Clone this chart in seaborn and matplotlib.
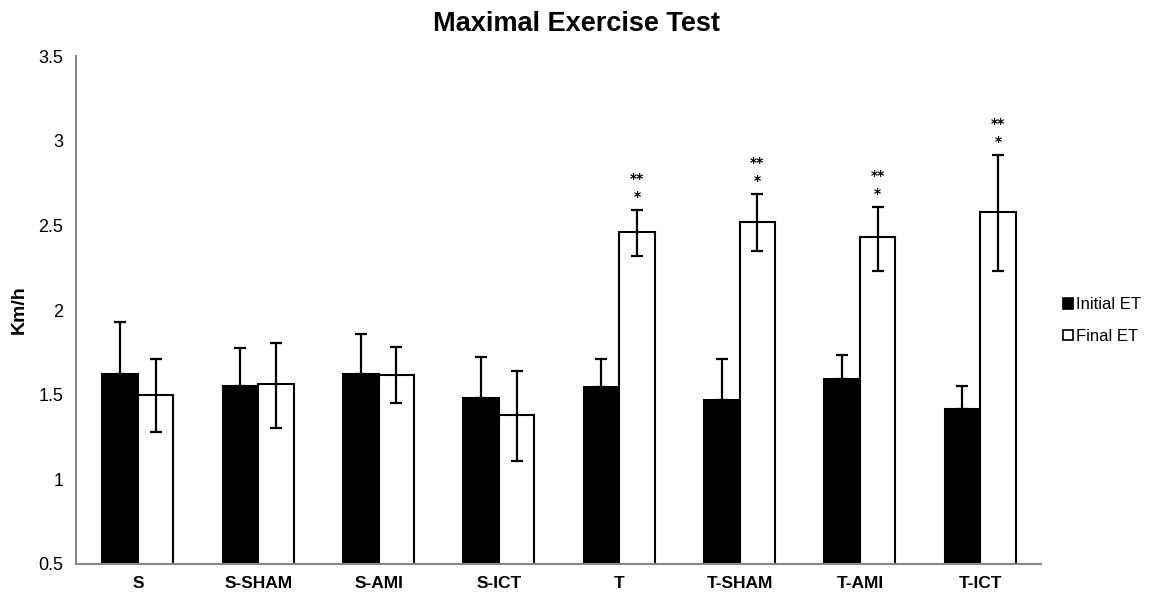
import matplotlib
matplotlib.use("Agg")
import matplotlib.pyplot as plt
import numpy as np
import pandas as pd
import seaborn as sns

# Values (Km/h)
groups = ["S", "S-SHAM", "S-AMI", "S-ICT", "T", "T-SHAM", "T-AMI", "T-ICT"]
initial_et = [1.62, 1.55, 1.625, 1.48, 1.545, 1.467, 1.59, 1.414]
initial_err_up = [0.31, 0.225, 0.235, 0.24, 0.165, 0.243, 0.145, 0.136]
final_et = [1.50, 1.565, 1.615, 1.378, 2.46, 2.52, 2.43, 2.58]
final_err_up = [0.21, 0.24, 0.165, 0.262, 0.13, 0.165, 0.18, 0.335]
final_err_down = [0.22, 0.26, 0.165, 0.27, 0.14, 0.17, 0.20, 0.35]
significant = [False, False, False, False, True, True, True, True]

series_names = ["Initial ET", "Final ET"]

df = pd.DataFrame({
    "group": groups * 2,
    "test": [series_names[0]] * len(groups) + [series_names[1]] * len(groups),
    "value": initial_et + final_et,
})

sns.set_style("white")
plt.rcParams["font.family"] = ["Liberation Sans", "DejaVu Sans"]
plt.rcParams["text.color"] = "black"
plt.rcParams["axes.labelcolor"] = "black"

fig = plt.figure(figsize=(11.49, 5.96), dpi=100)
ax = fig.add_axes([0.0661, 0.0537, 0.906 - 0.0661, 0.906 - 0.0537])

sns.barplot(data=df, x="group", y="value", hue="test", order=groups,
            hue_order=series_names, palette=["black", "white"],
            edgecolor="black", linewidth=1.5, width=0.59, gap=0,
            errorbar=None, ax=ax, legend=True)

# Error bars: initial only upward, final both directions
init_x = [b.get_x() + b.get_width() / 2 for b in ax.containers[0]]
final_x = [b.get_x() + b.get_width() / 2 for b in ax.containers[1]]
ax.errorbar(init_x, initial_et, yerr=[np.zeros(len(groups)), initial_err_up],
            fmt="none", ecolor="black", elinewidth=1.6, capsize=4.5, capthick=1.6)
ax.errorbar(final_x, final_et, yerr=[final_err_down, final_err_up],
            fmt="none", ecolor="black", elinewidth=1.6, capsize=4.5, capthick=1.6)

# Significance marks above the final bars
for x, v, e, sig in zip(final_x, final_et, final_err_up, significant):
    if sig:
        top = v + e
        ax.text(x, top + 0.077, "*", ha="center", va="center",
                fontsize=10, fontweight="bold", family="DejaVu Sans")
        ax.text(x, top + 0.183, "**", ha="center", va="center",
                fontsize=10, fontweight="bold", family="DejaVu Sans")

ax.set_ylim(0.5, 3.5)
ax.set_xlim(-0.515, 7.505)
ax.set_yticks([0.5, 1, 1.5, 2, 2.5, 3, 3.5])
ax.set_yticklabels(["0.5", "1", "1.5", "2", "2.5", "3", "3.5"])

for side in ["top", "right"]:
    ax.spines[side].set_visible(False)
for side in ["left", "bottom"]:
    ax.spines[side].set_color("#888888")
    ax.spines[side].set_linewidth(1.5)

ax.tick_params(axis="y", which="major", direction="out", length=5,
               width=1.2, color="#888888", labelcolor="black",
               labelsize=13, pad=4)
ax.tick_params(axis="x", which="major", length=0, labelcolor="black",
               labelsize=12.5, pad=9)
for label in ax.get_xticklabels():
    label.set_fontweight("bold")

ax.set_xlabel("")
ax.set_ylabel("Km/h", fontsize=14, fontweight="bold", labelpad=8)

fig.suptitle("Maximal Exercise Test", x=0.502, y=0.982, fontsize=19.5,
             fontweight="heavy")

leg = ax.legend(loc="center left", bbox_to_anchor=(0.912, 0.462),
                bbox_transform=fig.transFigure, frameon=False, fontsize=12,
                handlelength=0.6, handleheight=0.6, handletextpad=0.2,
                labelspacing=1.0)
for h in leg.legend_handles:
    h.set_edgecolor("black")
    h.set_linewidth(1.2)

fig.savefig("out.png", dpi=100)
